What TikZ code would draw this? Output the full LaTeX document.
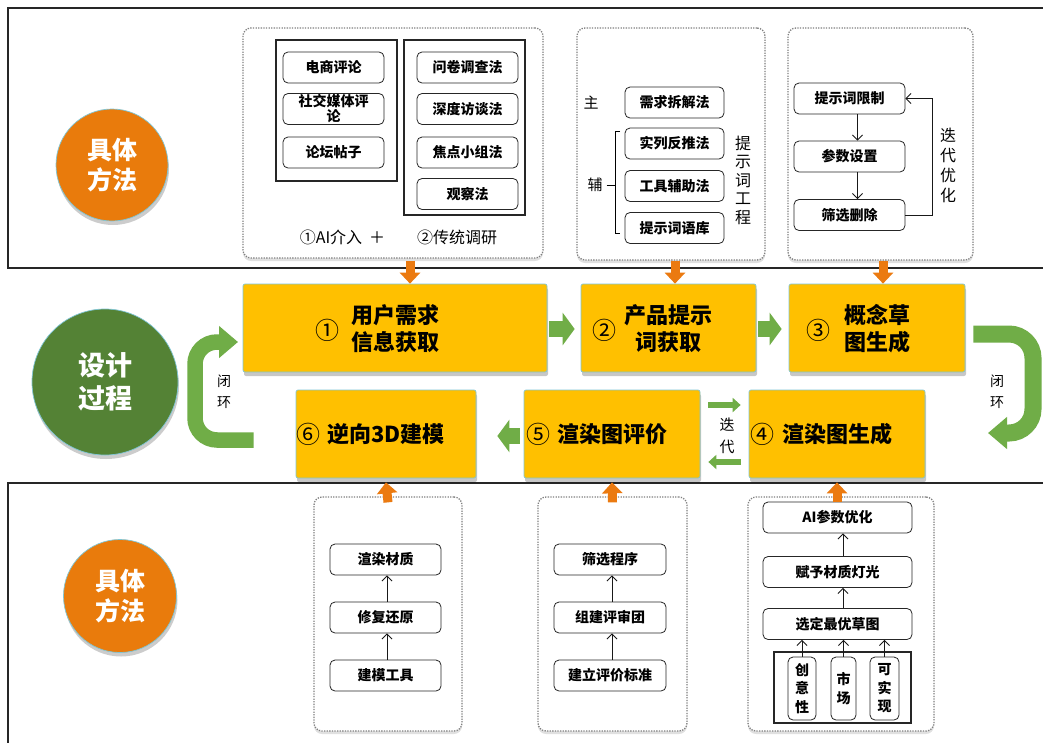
\documentclass[tikz,border=0pt]{standalone}
\usepackage{fontspec}
\setmainfont{Noto Sans CJK SC}
\usetikzlibrary{arrows.meta,shadows,calc}
\definecolor{myorange}{HTML}{E97B0C}
\definecolor{mygreen}{HTML}{548235}
\definecolor{myyellow}{HTML}{FFC000}
\definecolor{arrgreen}{HTML}{70AD47}
\definecolor{arrorange}{HTML}{EB7A10}
\definecolor{edgeblue}{HTML}{7FC6D6}
\tikzset{
  frame/.style={draw=black!85, line width=1.2pt},
  circ/.style={circle, draw=edgeblue, line width=0.7pt, text=white, align=center, inner sep=0pt,
    drop shadow={shadow xshift=1pt, shadow yshift=-4pt, opacity=0.2, fill=black}},
  mainbox/.style={draw=edgeblue, line width=0.7pt, fill=myyellow, rounded corners=2pt, inner sep=0pt,
    drop shadow={shadow xshift=1pt, shadow yshift=-4pt, opacity=0.22, fill=black}},
  panel/.style={draw=black!50, line width=1.3pt, dash pattern=on 1.3pt off 1.3pt, rounded corners=8pt, fill=white,
    drop shadow={shadow xshift=0pt, shadow yshift=-3pt, opacity=0.12, fill=black}},
  grp/.style={draw=black!85, line width=1.2pt, inner sep=0pt},
  sbox/.style={draw=black!85, line width=0.8pt, fill=white, rounded corners=5pt, inner sep=0pt, align=center,
    font=\fontsize{14}{15}\selectfont\bfseries},
  mainf/.style={align=center, inner sep=0pt, font=\fontsize{22}{27}\selectfont\bfseries},
  numf/.style={inner sep=0pt, font=\fontsize{24}{24}\selectfont},
  plain/.style={align=center, inner sep=0pt},
  sarrow/.style={draw=black!90, line width=0.9pt, -{Straight Barb[length=5pt,width=10pt]}},
  oarrow/.style={draw=arrorange, line width=9pt, -{Triangle[length=11pt,width=20pt]}},
  garrow/.style={draw=arrgreen, line width=16pt, -{Triangle[length=12pt,width=32pt]}},
  thinarrow/.style={draw=arrgreen, line width=6pt, -{Triangle[length=8pt,width=14pt]}},
  garrowU/.style={draw=arrgreen, line width=16pt, rounded corners=22pt, -{Triangle[length=19pt,width=31pt]}},
}
\begin{document}
\begin{tikzpicture}[x=1pt,y=-1pt]
\useasboundingbox (0,0) rectangle (1043,742);
\fill[white] (0,0) rectangle (1043,742);
\draw[frame] (8,8) rectangle (1046,268);
\draw[frame] (8,483) rectangle (1046,748);

% circles
\node[circ, fill=myorange, minimum size=112pt, font=\fontsize{25}{30}\selectfont\bfseries] (m1) at (112,165) {具体\\方法};
\node[circ, fill=mygreen, minimum size=146pt, font=\fontsize{27}{33}\selectfont\bfseries] (dp) at (105,382) {设计\\过程};
\node[circ, fill=myorange, minimum size=113pt, font=\fontsize{25}{30}\selectfont\bfseries] (m2) at (120,596) {具体\\方法};

% top panels
\node[panel, minimum width=300pt, minimum height=230pt] (p1) at (393,143) {};
\node[panel, minimum width=188pt, minimum height=232pt] (p2) at (671,144) {};
\node[panel, minimum width=185pt, minimum height=232pt] (p3) at (880.5,144) {};

% panel 1
\node[grp, minimum width=121pt, minimum height=141pt] (g1) at (336.5,110.5) {};
\node[grp, minimum width=121pt, minimum height=175pt] (g2) at (464.5,127.5) {};
\node[sbox, minimum width=101pt, minimum height=31pt] (a1) at (333.5,67.5) {电商评论};
\node[sbox, minimum width=101pt, minimum height=31pt] (a2) at (333.5,109) {社交媒体评\\论};
\node[sbox, minimum width=101pt, minimum height=31pt] (a3) at (333.5,152.5) {论坛帖子};
\node[sbox, minimum width=101pt, minimum height=31pt] (r1) at (467.5,67.5) {问卷调查法};
\node[sbox, minimum width=101pt, minimum height=31pt] (r2) at (467.5,109) {深度访谈法};
\node[sbox, minimum width=101pt, minimum height=31pt] (r3) at (467.5,152.5) {焦点小组法};
\node[sbox, minimum width=101pt, minimum height=31pt] (r4) at (467.5,194) {观察法};
\node[plain, font=\fontsize{16}{18}\selectfont] (cap1) at (331,237) {①AI介入};
\node[plain, font=\fontsize{16}{18}\selectfont] (cap2) at (377,238) {＋};
\node[plain, font=\fontsize{16}{18}\selectfont] (cap3) at (457,237) {②传统调研};

% panel 2
\node[sbox, minimum width=99pt, minimum height=31pt] (q1) at (674.5,102.5) {需求拆解法};
\node[sbox, minimum width=99pt, minimum height=31pt] (q2) at (674.5,143.5) {实列反推法};
\node[sbox, minimum width=99pt, minimum height=31pt] (q3) at (674.5,186) {工具辅助法};
\node[sbox, minimum width=99pt, minimum height=31pt] (q4) at (674.5,228) {提示词语库};
\node[plain, font=\fontsize{15}{17}\selectfont] (zhu) at (591,103) {主};
\node[plain, font=\fontsize{15}{17}\selectfont] (fu) at (595,185) {辅};
\draw[line width=0.9pt] (fu.east) ++(4,0) -- (615,185);
\draw[line width=0.9pt] (620,131) -- (615,131) -- (615,233) -- (620,233);
\node[plain, font=\fontsize{16}{18.5}\selectfont] (tsc) at (743,180) {提\\示\\词\\工\\程};

% panel 3
\node[sbox, minimum width=111pt, minimum height=31pt] (t1) at (849.5,98.5) {提示词限制};
\node[sbox, minimum width=111pt, minimum height=31pt] (t2) at (849.5,156.5) {参数设置};
\node[sbox, minimum width=111pt, minimum height=31pt] (t3) at (849.5,215) {筛选删除};
\draw[sarrow] ([xshift=8pt]t1.south) -- ([xshift=8pt]t2.north);
\draw[sarrow] ([xshift=8pt]t2.south) -- ([xshift=8pt]t3.north);
\draw[sarrow] (t3.east) -- ++(27,0) |- (t1.east);
\node[plain, font=\fontsize{16}{20}\selectfont] (ddyh) at (948,165) {迭\\代\\优\\化};

% main boxes
\node[mainbox, minimum width=304pt, minimum height=88pt] (b1) at (395,328) {};
\node[mainbox, minimum width=175pt, minimum height=88pt] (b2) at (668.5,328) {};
\node[mainbox, minimum width=176pt, minimum height=88pt] (b3) at (877,328) {};
\node[mainbox, minimum width=180pt, minimum height=88pt] (b6) at (386,434) {};
\node[mainbox, minimum width=176pt, minimum height=88pt] (b5) at (612,434) {};
\node[mainbox, minimum width=176pt, minimum height=88pt] (b4) at (837,434) {};

\node[numf] (n1) at (327,330) {①};
\node[mainf] (l1) at (395,328.5) {用户需求\\信息获取};
\node[numf] (n2) at (604,330) {②};
\node[mainf] (l2) at (668,328.5) {产品提示\\词获取};
\node[numf] (n3) at (818,330) {③};
\node[mainf] (l3) at (877,328.5) {概念草\\图生成};
\node[numf] (n4) at (762,434) {④};
\node[mainf] (l4) at (837,434) {渲染图生成};
\node[numf] (n5) at (538,434) {⑤};
\node[mainf] (l5) at (612,434) {渲染图评价};
\node[numf] (n6) at (308,434) {⑥};
\node[mainf] (l6) at (386,434) {逆向3D建模};

% orange arrows top
\draw[oarrow] ([xshift=17pt,yshift=-2pt]p1.south) -- ([xshift=15pt]b1.north);
\draw[oarrow] ([xshift=4pt,yshift=0pt]p2.south) -- ([xshift=6.5pt]b2.north);
\draw[oarrow] ([xshift=2.5pt,yshift=0pt]p3.south) -- ([xshift=6pt]b3.north);

% green arrows
\draw[garrow] ([xshift=2pt,yshift=-1pt]b1.east) -- ([xshift=-6pt,yshift=-1pt]b2.west);
\draw[garrow] ([xshift=2pt,yshift=-1pt]b2.east) -- ([xshift=-7pt,yshift=-1pt]b3.west);
\draw[garrow] ([xshift=-4pt,yshift=-2pt]b5.west) -- ([xshift=21pt,yshift=-2pt]b6.east);
\draw[thinarrow] ([xshift=8pt,yshift=29pt]b5.east) -- ([xshift=-8pt,yshift=29pt]b4.west);
\draw[thinarrow] ([xshift=-8pt,yshift=-28pt]b4.west) -- ([xshift=8pt,yshift=-28pt]b5.east);
\node[plain, font=\fontsize{15}{22}\selectfont] (dd) at (727,436) {迭\\代};

\coordinate (rtip) at (988,433);
\coordinate (ltip) at (238,342);
\draw[garrowU, line width=17pt, rounded corners=24pt] ([xshift=8pt,yshift=-6pt]b3.east) -- (1033,334) -- (1033,433) -- (rtip);
\draw[garrowU, line width=15.5pt] ([xshift=-42pt,yshift=-6pt]b6.west) -- (195,440) -- (195,342) -- (ltip);
\node[plain, font=\fontsize{14}{21}\selectfont] (bh1) at (997,392) {闭\\环};
\node[plain, font=\fontsize{14}{21}\selectfont] (bh2) at (224,392) {闭\\环};

% bottom panels
\node[panel, minimum width=148pt, minimum height=234pt] (pa) at (388,614) {};
\node[panel, minimum width=149pt, minimum height=234pt] (pb) at (612.5,614) {};
\node[panel, minimum width=186pt, minimum height=234pt] (pc) at (841,614) {};

\node[sbox, minimum width=111pt, minimum height=31pt] (x1) at (385.5,559.5) {渲染材质};
\node[sbox, minimum width=111pt, minimum height=31pt] (x2) at (385.5,617.5) {修复还原};
\node[sbox, minimum width=111pt, minimum height=31pt] (x3) at (385.5,675.5) {建模工具};
\draw[sarrow] ([xshift=1.5pt]x3.north) -- ([xshift=1.5pt]x2.south);
\draw[sarrow] ([xshift=1.5pt]x2.north) -- ([xshift=1.5pt]x1.south);

\node[sbox, minimum width=112pt, minimum height=31pt] (y1) at (610,559.5) {筛选程序};
\node[sbox, minimum width=112pt, minimum height=31pt] (y2) at (610,617.5) {组建评审团};
\node[sbox, minimum width=112pt, minimum height=31pt] (y3) at (610,675.5) {建立评价标准};
\draw[sarrow] ([xshift=2pt]y3.north) -- ([xshift=2pt]y2.south);
\draw[sarrow] ([xshift=2pt]y2.north) -- ([xshift=2pt]y1.south);

\node[sbox, minimum width=149pt, minimum height=31pt] (c1) at (837.5,517.5) {AI参数优化};
\node[sbox, minimum width=149pt, minimum height=31pt] (c2) at (837.5,572) {赋予材质灯光};
\node[sbox, minimum width=149pt, minimum height=31pt] (c3) at (837.5,624) {选定最优草图};
\draw[sarrow] ([xshift=5.5pt]c3.north) -- ([xshift=5.5pt]c2.south);
\draw[sarrow] ([xshift=5.5pt]c2.north) -- ([xshift=5.5pt]c1.south);
\node[grp, minimum width=137pt, minimum height=71pt] (g3) at (842.5,687.5) {};
\node[sbox, minimum width=28pt, minimum height=63pt, font=\fontsize{14}{18.5}\selectfont\bfseries] (k1) at (802,688.5) {创\\意\\性};
\node[sbox, minimum width=25pt, minimum height=63pt, font=\fontsize{14}{18.5}\selectfont\bfseries] (k2) at (843.5,688.5) {市\\场};
\node[sbox, minimum width=29pt, minimum height=63pt, font=\fontsize{14}{18.5}\selectfont\bfseries] (k3) at (884.5,688.5) {可\\实\\现};
\draw[sarrow] (k1.north) -- (k1.north |- c3.south);
\draw[sarrow] (k2.north) -- (k2.north |- c3.south);
\draw[sarrow] (k3.north) -- (k3.north |- c3.south);

% orange arrows bottom
\draw[oarrow] ([yshift=-6pt]pa.north) -- ([yshift=-4pt]b6.south);
\draw[oarrow] ([yshift=-6pt]pb.north) -- ([yshift=-4pt]b5.south);
\draw[oarrow] ([yshift=-6pt]b4.south |- pc.north) -- ([yshift=-4pt]b4.south);
\end{tikzpicture}
\end{document}
